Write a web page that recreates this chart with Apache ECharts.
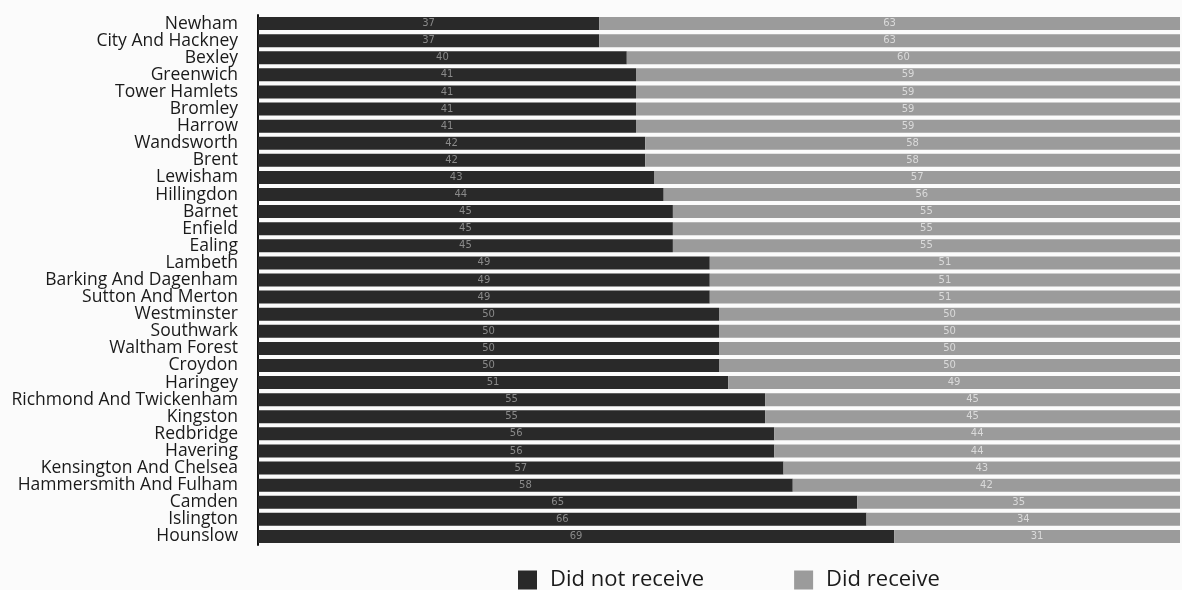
<!DOCTYPE html>
<html>
<head>
<meta charset="utf-8">
<script src="https://cdn.jsdelivr.net/npm/echarts@6/dist/echarts.min.js"></script>
<style>
  html, body { margin: 0; padding: 0; background: #fbfbfb; }
  #chart { width: 1182px; height: 590px; }
</style>
</head>
<body>
<div id="chart"></div>
<script>
// Boroughs, top to bottom
const boroughs = [
  'Newham', 'City And Hackney', 'Bexley', 'Greenwich', 'Tower Hamlets',
  'Bromley', 'Harrow', 'Wandsworth', 'Brent', 'Lewisham',
  'Hillingdon', 'Barnet', 'Enfield', 'Ealing', 'Lambeth',
  'Barking And Dagenham', 'Sutton And Merton', 'Westminster', 'Southwark', 'Waltham Forest',
  'Croydon', 'Haringey', 'Richmond And Twickenham', 'Kingston', 'Redbridge',
  'Havering', 'Kensington And Chelsea', 'Hammersmith And Fulham', 'Camden', 'Islington',
  'Hounslow'
];

// Percentages per borough
const didNotReceive = [
  37, 37, 40, 41, 41, 41, 41, 42, 42, 43,
  44, 45, 45, 45, 49, 49, 49, 50, 50, 50,
  50, 51, 55, 55, 56, 56, 57, 58, 65, 66,
  69
];
const didReceive = [
  63, 63, 60, 59, 59, 59, 59, 58, 58, 57,
  56, 55, 55, 55, 51, 51, 51, 50, 50, 50,
  50, 49, 45, 45, 44, 44, 43, 42, 35, 34,
  31
];

const seriesNames = ['Did not receive', 'Did receive'];

const chart = echarts.init(document.getElementById('chart'), null, { renderer: 'canvas' });

const labelStyle = (color) => ({
  show: true,
  position: 'inside',
  color: color,
  fontSize: 10,
  fontFamily: 'DejaVu Sans'
});

chart.setOption({
  backgroundColor: '#fbfbfb',
  animation: false,
  grid: { left: 258, right: 2, top: 15, bottom: 45, containLabel: false },
  legend: {
    data: seriesNames,
    top: 564,
    left: 513,
    itemWidth: 19,
    itemHeight: 19,
    itemGap: 90,
    icon: 'rect',
    textStyle: {
      fontSize: 22,
      color: '#1a1a1a',
      fontFamily: 'Open Sans',
      padding: [0, 0, 0, 8]
    }
  },
  xAxis: {
    type: 'value',
    min: 0,
    max: 100,
    show: false
  },
  yAxis: {
    type: 'category',
    data: boroughs,
    inverse: true,
    axisLine: { show: true, lineStyle: { color: '#111', width: 2 } },
    axisTick: { show: false },
    axisLabel: {
      interval: 0,
      color: '#1a1a1a',
      fontSize: 17.5,
      fontFamily: 'Open Sans',
      margin: 20,
      lineHeight: 17
    }
  },
  series: [
    {
      name: seriesNames[0],
      type: 'bar',
      stack: 'total',
      data: didNotReceive,
      barCategoryGap: '24%',
      itemStyle: { color: '#292929' },
      label: labelStyle('#8a8a8a')
    },
    {
      name: seriesNames[1],
      type: 'bar',
      stack: 'total',
      data: didReceive,
      itemStyle: { color: '#9b9b9b' },
      label: labelStyle('#dadada')
    }
  ]
});
</script>
</body>
</html>
